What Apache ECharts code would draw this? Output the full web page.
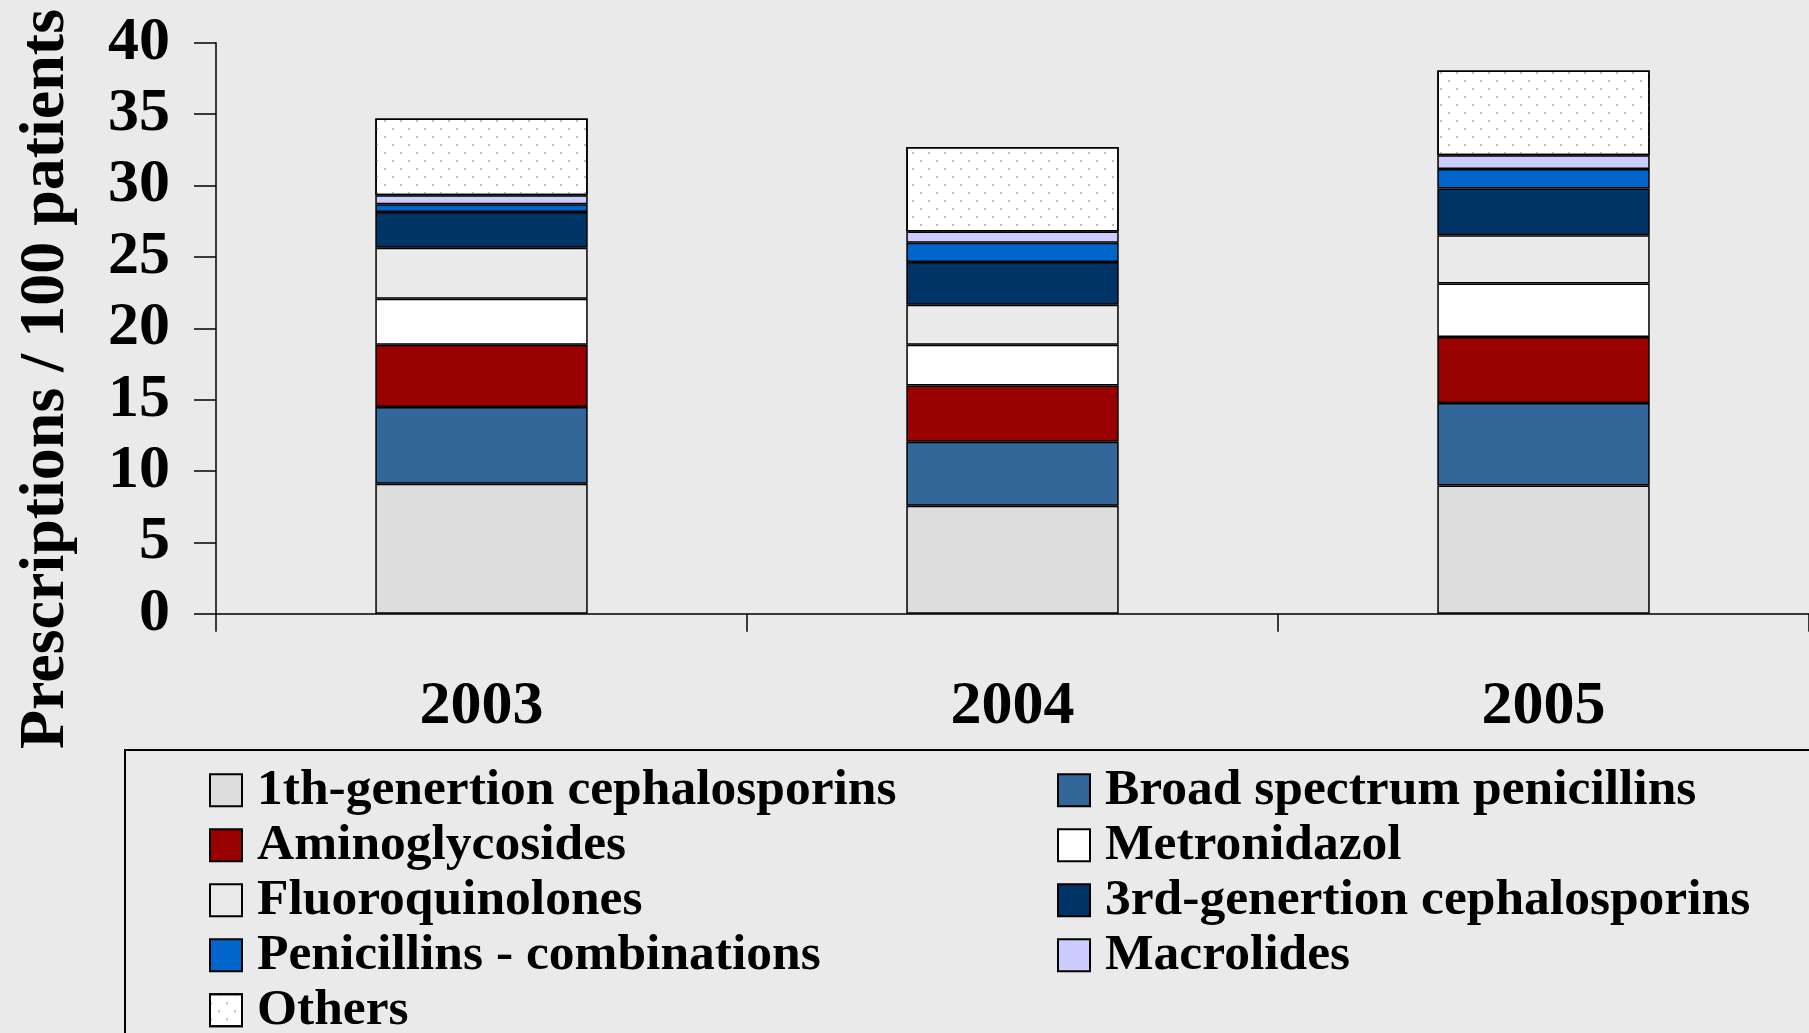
<!DOCTYPE html>
<html>
<head>
<meta charset="utf-8">
<script src="https://cdn.jsdelivr.net/npm/echarts@6/dist/echarts.min.js"></script>
<style>html,body{margin:0;padding:0;background:#EAEAEA;}#c{width:1809px;height:1033px;}</style>
</head>
<body>
<div id="c"></div>
<script>
const years = ['2003', '2004', '2005'];
const yTicks = [0, 5, 10, 15, 20, 25, 30, 35, 40];
const firstGenCeph = [9.11, 7.57, 8.99];
const broadPen = [5.37, 4.48, 5.77];
const aminoglycosides = [4.36, 3.94, 4.63];
const metronidazol = [3.23, 2.85, 3.74];
const fluoroquinolones = [3.57, 2.80, 3.39];
const thirdGenCeph = [2.51, 3.00, 3.26];
const penComb = [0.54, 1.34, 1.37];
const macrolides = [0.63, 0.80, 0.97];
const others = [5.37, 5.91, 5.94];

const names = ['1th-genertion cephalosporins', 'Broad spectrum penicillins', 'Aminoglycosides',
  'Metronidazol', 'Fluoroquinolones', '3rd-genertion cephalosporins',
  'Penicillins - combinations', 'Macrolides', 'Others'];
const values = [firstGenCeph, broadPen, aminoglycosides, metronidazol, fluoroquinolones,
  thirdGenCeph, penComb, macrolides, others];
const colors = ['#DDDDDD', '#336699', '#990000', '#FFFFFF', '#EAEAEA', '#003366', '#0066CC', '#CCCCFF', '#FFFFFF'];

const font = 'Liberation Serif, Times New Roman, serif';

const series = names.map((n, i) => {
  const s = {
    name: n, type: 'bar', stack: 'total', barWidth: '40%', data: values[i],
    itemStyle: { color: colors[i], borderColor: '#000', borderWidth: 1.5 },
    emphasis: { disabled: true }
  };
  if (n === 'Others') {
    s.itemStyle.decal = {
      symbol: 'rect', symbolSize: 1, color: '#BDBDBD',
      dashArrayX: [[2, 14], [0, 8, 2, 6]], dashArrayY: [2, 5.7], rotation: 0
    };
  }
  return s;
});

const legendCommon = {
  orient: 'vertical', icon: 'rect', itemWidth: 32, itemHeight: 32, itemGap: 0.5,
  padding: 0, height: 400, selectedMode: false,
  textStyle: { fontFamily: font, fontWeight: 'bold', fontSize: 51.5, color: '#000', lineHeight: 54.5, padding: [0, 0, 0, 10] }
};

const chart = echarts.init(document.getElementById('c'));
chart.setOption({
  backgroundColor: '#EAEAEA',
  animation: false,
  grid: { left: 216, right: 0, top: 42.7, bottom: 419.2, containLabel: false },
  xAxis: {
    type: 'category', data: years,
    axisLine: { lineStyle: { color: '#000', width: 1.5 } },
    axisTick: { show: true, length: 18, lineStyle: { color: '#000', width: 1.5 } },
    axisLabel: { fontFamily: font, fontWeight: 'bold', fontSize: 62, color: '#000', margin: 62 }
  },
  yAxis: {
    type: 'value', min: 0, max: 40, interval: 5,
    axisLine: { show: true, lineStyle: { color: '#000', width: 1.5 } },
    axisTick: { show: true, length: 22, lineStyle: { color: '#000', width: 1.5 } },
    splitLine: { show: false },
    axisLabel: { fontFamily: font, fontWeight: 'bold', fontSize: 62, color: '#000', margin: 46,
      formatter: v => yTicks.includes(v) ? String(v) : '' }
  },
  legend: [
    Object.assign({}, legendCommon, { left: 209, top: 763,
      data: [names[0], names[2], names[4], names[6], names[8]] }),
    Object.assign({}, legendCommon, { left: 1057, top: 763,
      data: [names[1], names[3], names[5], names[7]] })
  ],
  graphic: [
    { type: 'rect', shape: { x: 125, y: 750, width: 1720, height: 320 }, z: -1,
      style: { fill: 'none', stroke: '#000', lineWidth: 2 } },
    { type: 'text', x: 46, y: 379, rotation: Math.PI / 2,
      style: { text: 'Prescriptions / 100 patients', fontFamily: font, fontWeight: 'bold', fontSize: 64,
        fill: '#000', textAlign: 'center', textVerticalAlign: 'middle' } }
  ],
  series: series
});
</script>
</body>
</html>
